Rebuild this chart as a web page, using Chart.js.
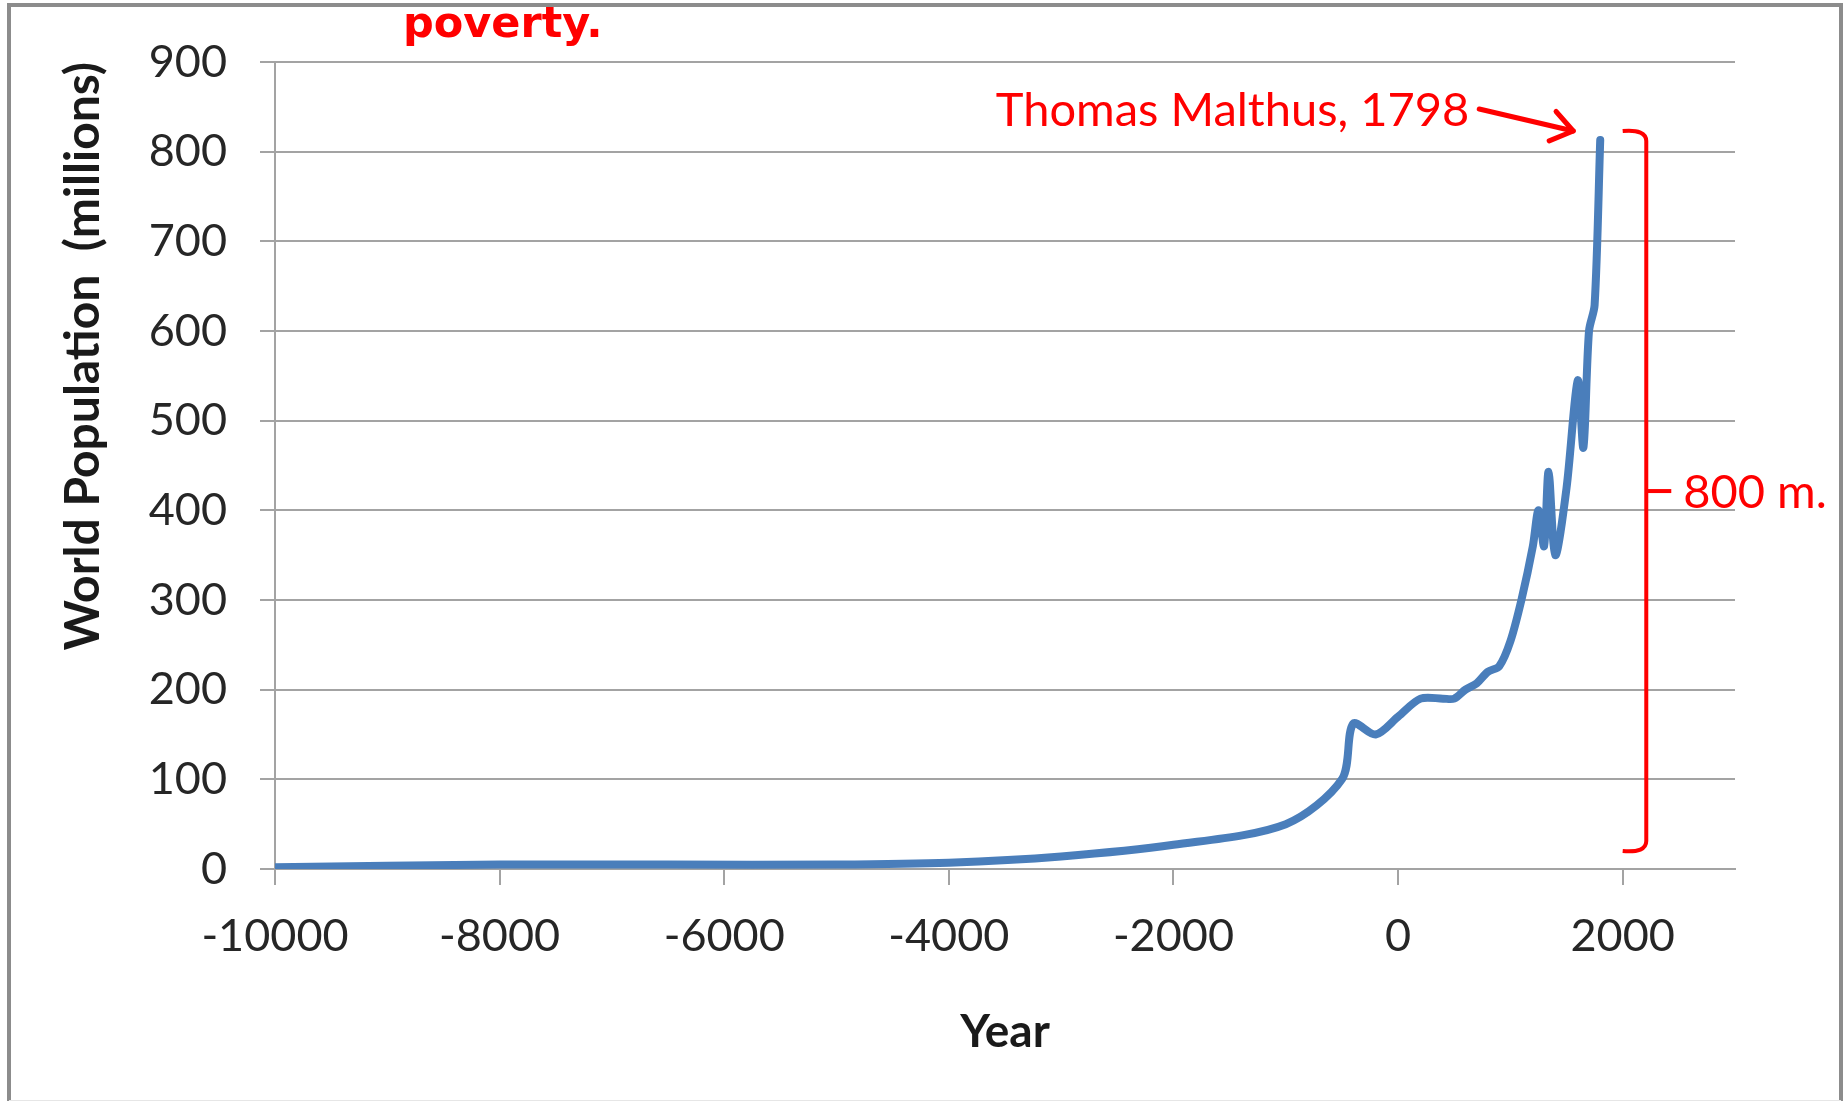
<!DOCTYPE html>
<html>
<head>
<meta charset="utf-8">
<title>World Population</title>
<script src="https://cdn.jsdelivr.net/npm/chart.js@4.4.1/dist/chart.umd.min.js"></script>
<style>
  html, body { margin: 0; padding: 0; background: #fff; }
  #wrap { width: 1843px; height: 1101px; position: relative; }
</style>
</head>
<body>
<div id="wrap"><canvas id="popChart"></canvas></div>
<script>
// world population estimates (millions)
const years = [-10000, -8000, -6500, -5000, -4000, -3000, -2000, -1000, -500, -400, -200, 1,
  200, 400, 500, 600, 700, 800, 900, 1000, 1100, 1200, 1250, 1300, 1340, 1400, 1500, 1600,
  1650, 1700, 1750, 1800];
const population = [2, 5, 5, 5, 7, 14, 27, 50, 100, 162, 150, 170,
  190, 190, 190, 200, 207, 220, 226, 254, 301, 360, 400, 360, 443, 350, 425, 545,
  470, 600, 629, 813];

const xTickValues = [-10000, -8000, -6000, -4000, -2000, 0, 2000];
const yTickValues = [0, 100, 200, 300, 400, 500, 600, 700, 800, 900];

const topNote = "poverty.";
const malthusNote = "Thomas Malthus, 1798";
const bracketNote = "800 m.";
const bracketTop = 823;
const bracketBottom = 20;

const red = "#ff0000";
const gridGray = "#a3a3a3";
const tickFont = { family: "Lato", size: 45 };
const titleFont = { family: "Lato", size: 46, weight: "bold" };

const points = years.map((year, i) => ({ x: year, y: population[i] }));

const framePlugin = {
  id: "frame",
  beforeDraw(chart) {
    const { ctx, width, height } = chart;
    ctx.save();
    ctx.fillStyle = "#fff";
    ctx.fillRect(0, 0, width, height);
    ctx.strokeStyle = "#8c8c8c";
    ctx.lineWidth = 4;
    ctx.beginPath();
    ctx.moveTo(9, height);
    ctx.lineTo(9, 5);
    ctx.lineTo(width - 2, 5);
    ctx.lineTo(width - 2, height);
    ctx.stroke();
    ctx.strokeStyle = "#e6e6e6";
    ctx.lineWidth = 1;
    ctx.beginPath();
    ctx.moveTo(9, height - 0.5);
    ctx.lineTo(width - 2, height - 0.5);
    ctx.stroke();
    ctx.restore();
  }
};

const notesPlugin = {
  id: "notes",
  afterDraw(chart) {
    const { ctx, scales } = chart;
    const x = scales.x;
    const y = scales.y;
    const last = points[points.length - 1];
    const lastX = x.getPixelForValue(last.x);
    const lastY = y.getPixelForValue(last.y);

    ctx.save();
    ctx.fillStyle = red;
    ctx.strokeStyle = red;

    // top caption, cut off by the frame
    ctx.font = "bold 43px 'DejaVu Sans'";
    ctx.textAlign = "left";
    ctx.textBaseline = "alphabetic";
    ctx.fillText(topNote, 403, 37);

    // arrow to the last point
    const tipX = lastX - 27;
    const tipY = lastY - 9;
    const tailX = tipX - 94;
    const tailY = tipY - 22;
    ctx.lineWidth = 5;
    ctx.lineCap = "round";
    ctx.lineJoin = "round";
    ctx.beginPath();
    ctx.moveTo(tailX, tailY);
    ctx.lineTo(tipX, tipY);
    ctx.stroke();
    const ang = Math.atan2(tipY - tailY, tipX - tailX);
    ctx.beginPath();
    ctx.moveTo(tipX + 26 * Math.cos(ang + Math.PI - 0.62), tipY + 26 * Math.sin(ang + Math.PI - 0.62));
    ctx.lineTo(tipX, tipY);
    ctx.lineTo(tipX + 26 * Math.cos(ang + Math.PI + 0.62), tipY + 26 * Math.sin(ang + Math.PI + 0.62));
    ctx.stroke();

    ctx.font = "47px Lato";
    ctx.textAlign = "right";
    ctx.fillText(malthusNote, tailX - 10, tailY + 17);

    // bracket covering 0..800 million
    const bx = x.getPixelForValue(2210);
    const hx = x.getPixelForValue(2000);
    const by0 = y.getPixelForValue(bracketTop);
    const by1 = y.getPixelForValue(bracketBottom);
    const mid = (by0 + by1) / 2;
    ctx.lineWidth = 4;
    ctx.lineCap = "butt";
    ctx.beginPath();
    ctx.moveTo(hx, by0);
    ctx.quadraticCurveTo(bx, by0 - 2, bx, by0 + 10);
    ctx.lineTo(bx, by1 - 10);
    ctx.quadraticCurveTo(bx, by1 + 2, hx, by1);
    ctx.stroke();
    ctx.beginPath();
    ctx.moveTo(bx, mid);
    ctx.lineTo(bx + 25, mid);
    ctx.stroke();

    ctx.font = "47px Lato";
    ctx.textAlign = "left";
    ctx.textBaseline = "middle";
    ctx.fillText(bracketNote, bx + 37, mid + 2);
    ctx.restore();
  }
};

new Chart(document.getElementById("popChart"), {
  type: "line",
  data: {
    datasets: [{
      label: "World Population",
      data: points,
      borderColor: "#4a7ebb",
      borderWidth: 8,
      pointRadius: 0,
      tension: 0.3,
      borderCapStyle: "round",
      borderJoinStyle: "round",
      fill: false
    }]
  },
  options: {
    responsive: true,
    maintainAspectRatio: false,
    animation: false,
    layout: { padding: { top: 62, right: 108, left: 0, bottom: 0 } },
    plugins: {
      legend: { display: false },
      tooltip: { enabled: false }
    },
    scales: {
      x: {
        type: "linear",
        min: -10000,
        max: 3000,
        afterBuildTicks(axis) {
          axis.ticks = xTickValues.map((v) => ({ value: v }));
        },
        afterFit(axis) { axis.height = 232; },
        ticks: {
          font: tickFont,
          color: "#262626",
          padding: 24,
          maxRotation: 0,
          autoSkip: false,
          callback: (value) => String(value)
        },
        grid: { drawOnChartArea: false, drawTicks: true, tickLength: 16, color: gridGray, lineWidth: 2 },
        border: { color: gridGray, width: 2 },
        title: { display: true, text: "Year", font: titleFont, color: "#1a1a1a", padding: { top: 0, bottom: 41 } }
      },
      y: {
        min: 0,
        max: 900,
        afterBuildTicks(axis) {
          axis.ticks = yTickValues.map((v) => ({ value: v }));
        },
        afterFit(axis) { axis.width = 275; },
        ticks: { font: tickFont, color: "#262626", padding: 33 },
        grid: { color: gridGray, lineWidth: 2, tickLength: 15 },
        border: { color: gridGray, width: 2 },
        title: {
          display: true,
          text: "World Population  (millions)",
          align: "end",
          font: { family: "Lato", size: 48, weight: "bold" },
          color: "#1a1a1a",
          padding: { top: 55, bottom: 0 }
        }
      }
    }
  },
  plugins: [framePlugin, notesPlugin]
});
</script>
</body>
</html>
